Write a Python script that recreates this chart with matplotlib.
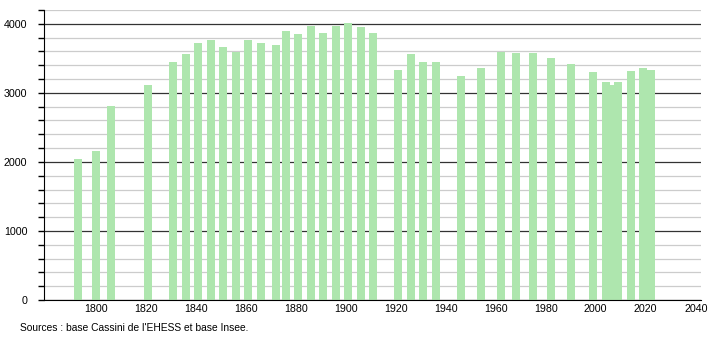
import matplotlib
matplotlib.use("Agg")
import matplotlib.pyplot as plt
from matplotlib.ticker import MultipleLocator

plt.rcParams['font.family'] = ['Liberation Sans', 'DejaVu Sans']

years = [1793, 1800, 1806, 1821, 1831, 1836, 1841, 1846, 1851, 1856,
         1861, 1866, 1872, 1876, 1881, 1886, 1891, 1896, 1901, 1906,
         1911, 1921, 1926, 1931, 1936, 1946, 1954, 1962, 1968, 1975,
         1982, 1990, 1999, 2004, 2007, 2009, 2014, 2019, 2022]
population = [2044, 2164, 2807, 3121, 3454, 3556, 3729, 3768, 3657, 3594,
              3763, 3725, 3700, 3894, 3855, 3961, 3874, 3971, 4014, 3947,
              3874, 3338, 3556, 3454, 3454, 3251, 3362, 3594, 3570, 3570,
              3512, 3425, 3309, 3164, 3121, 3164, 3314, 3362, 3338]
source = "Sources : base Cassini de l'EHESS et base Insee."

fig = plt.figure(figsize=(7.1, 3.4), dpi=100)
ax = fig.add_axes([0.062, 0.1176, 0.925, 0.853])

ax.bar(years, population, width=3.2, color='#aee6ae', zorder=3)

ax.set_xlim(1779.4, 2042)
ax.set_ylim(0, 4200)
ax.set_xticks(range(1800, 2041, 20))
ax.yaxis.set_major_locator(MultipleLocator(1000))
ax.yaxis.set_minor_locator(MultipleLocator(200))

ax.grid(axis='y', which='major', color='#333333', linewidth=0.9, zorder=1)
ax.grid(axis='y', which='minor', color='#cccccc', linewidth=0.9, zorder=1)

for s in ['top', 'right']:
    ax.spines[s].set_visible(False)
ax.spines['left'].set_zorder(4)
ax.spines['bottom'].set_zorder(4)

ax.tick_params(axis='x', length=0, pad=3, labelsize=7.7)
ax.tick_params(axis='y', which='both', length=4, width=1, pad=8, labelsize=7.7)

fig.text(20 / 710, 1 - 328 / 340, source, fontsize=7.4, va='center', ha='left')

fig.savefig("out.png", dpi=100)
